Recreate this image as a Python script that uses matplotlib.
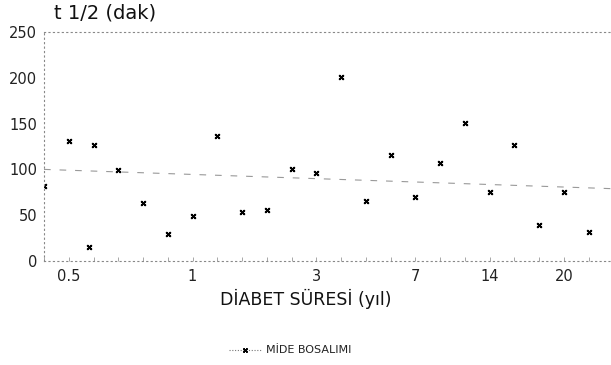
import numpy as np
import matplotlib
matplotlib.use('Agg')
from matplotlib import pyplot as plt

# diabetes duration position (category slots) and gastric emptying half time
pos = [0, 1, 1.8, 2, 3, 4, 5, 6, 7, 8, 9, 10, 11, 12, 13, 14, 15, 16, 17, 18, 19, 20, 21, 22]
t_half = [82, 131, 15, 127, 99, 63, 30, 49, 136, 53, 56, 100, 96, 201, 65, 116, 70, 107, 151, 75, 127, 39, 75, 32]

tick_pos = [1, 6, 11, 15, 18, 21]
tick_labels = ['0.5', '1', '3', '7', '14', '20']

trend_x = [0, 22.9]
trend_y = [100, 79]

fig = plt.figure(figsize=(6.11, 3.65), dpi=100)
ax = fig.add_axes([44/611, 1-261/365, (611-44)/611, (261-32)/365])

ax.plot(trend_x, trend_y, color='#999999', lw=0.8, ls=(0, (6, 8)))
ax.plot(pos, t_half, ls='none', marker=(4, 2, 45), color='black', ms=4.5, mew=1.3)

ax.set_xlim(0, 22.9)
ax.set_ylim(0, 250)
ax.set_yticks([0, 50, 100, 150, 200, 250])
ax.set_xticks(tick_pos)
ax.set_xticklabels(tick_labels)
ax.set_xticks(range(0, 23), minor=True)
ax.tick_params(axis='both', which='both', length=3, width=0.6, color='#999999',
               labelsize=10.5, labelcolor='#222222')
ax.tick_params(axis='x', which='both', direction='in', pad=6)
ax.tick_params(axis='y', length=0, pad=5)

ax.spines['right'].set_visible(False)
for s in ['left', 'bottom', 'top']:
    ax.spines[s].set_linestyle((0, (1, 3)))
    ax.spines[s].set_color('#888888')
    ax.spines[s].set_linewidth(0.8)

fig.text(54/611, 1-13/365, 't 1/2 (dak)', fontsize=14, va='center', ha='left', color='#111111')
fig.text(306/611, 1-299/365, 'DİABET SÜRESİ (yıl)', fontsize=12.5, va='center', ha='center', color='#111111')

fig.lines.append(plt.Line2D([229/611, 262/611], [1-350/365]*2, transform=fig.transFigure,
                            color='#777777', lw=0.8, ls=(0, (1, 1.5))))
fig.lines.append(plt.Line2D([245/611], [1-350/365], transform=fig.transFigure, ls='none',
                            marker=(4, 2, 45), color='black', ms=4, mew=1.0))
fig.text(266/611, 1-350/365, 'MİDE BOSALIMI', fontsize=8, va='center', ha='left', color='#222222')

fig.savefig('out.png', dpi=100)
